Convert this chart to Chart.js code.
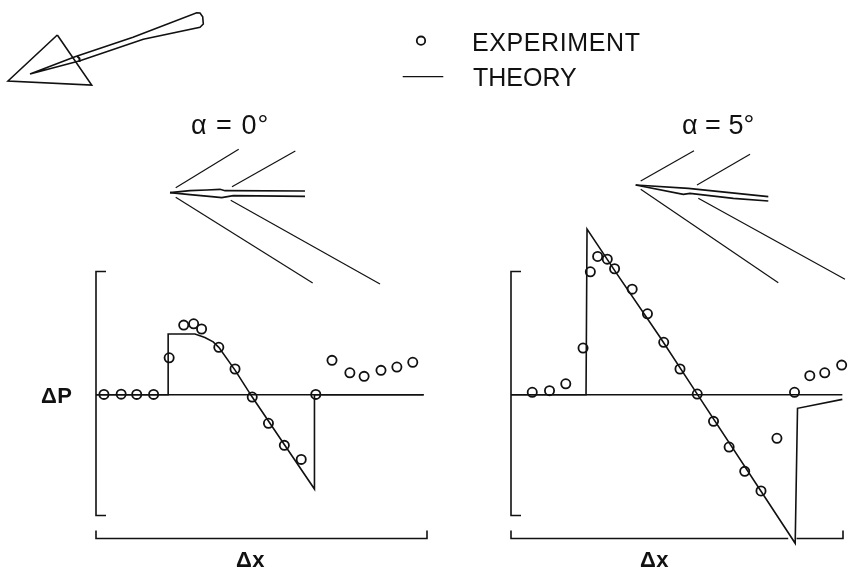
<!DOCTYPE html>
<html>
<head>
<meta charset="utf-8">
<style>
  html, body { margin: 0; padding: 0; background: #fff; }
  body { position: relative; width: 848px; height: 568px; overflow: hidden; }
  canvas { position: absolute; }
  .label { position: absolute; white-space: nowrap; color: #111; font-family: "Liberation Sans", sans-serif; line-height: 1; }
  .mark { font-size: 22px; font-weight: bold; letter-spacing: 0.5px; }
</style>
<script src="https://cdn.jsdelivr.net/npm/chart.js@4"></script>
</head>
<body>
<canvas id="sketch"></canvas>
<canvas id="left"></canvas>
<canvas id="right"></canvas>
<div class="label" style="left:472px;top:30px;font-size:25px;letter-spacing:0.6px">EXPERIMENT</div>
<div class="label" style="left:473px;top:65px;font-size:25px">THEORY</div>
<div class="label" style="left:191px;top:112px;font-size:27px;letter-spacing:1px">α = 0°</div>
<div class="label" style="left:682px;top:112px;font-size:27px">α = 5°</div>
<div class="label mark" style="left:41px;top:385px">ΔP</div>
<div class="label mark" style="left:236px;top:549px">Δx</div>
<div class="label mark" style="left:640px;top:549px">Δx</div>
<script>
// values, Δx in % of the bracket, Δp in % of the half bracket
const leftExpX = [2.4, 7.6, 12.3, 17.4, 22.1, 26.5, 29.5, 31.9, 37.1, 42, 47.2, 52.1, 56.9, 62, 66.4, 71.3, 76.7, 81, 86.1, 90.9, 95.7];
const leftExpY = [0.3, 0.5, 0.3, 0.3, 30.3, 57.1, 58.2, 53.9, 38.9, 21.1, -1.9, -23.4, -41.5, -53, 0.3, 28.2, 18, 15.1, 20, 22.7, 26.6];
const leftTheoryX = [0, 21.8, 21.8, 29.9, 32.9, 35.4, 37.1, 42, 47.2, 57.6, 66, 66, 99];
const leftTheoryY = [0, 0, 49.8, 49.8, 47, 43.4, 38.9, 20.2, -1.9, -43.7, -77.3, 0, 0];

const rightExpX = [6.4, 11.6, 16.5, 21.7, 23.9, 26.1, 29, 31.2, 36.5, 41.1, 46, 50.9, 56.1, 61, 65.7, 70.4, 75.3, 80.1, 85.4, 90, 94.5, 99.6];
const rightExpY = [2, 3.3, 9, 38.3, 100.8, 113.4, 111.2, 103.3, 86.6, 66.4, 43, 21.1, 0.6, -21.8, -42.9, -62.8, -78.9, -35.7, 2, 15.6, 18, 24.3];
const rightTheoryX = [0, 22.6, 22.9, 31.8, 44.8, 56.1, 85.6, 86.3, 99.8];
const rightTheoryY = [0, 0, 135.8, 99.5, 47.5, 0.5, -121.8, -11.1, -3.8];

// the bracket on the Δp axis does not reach the highest and lowest theory values
const bracketTop = 101;
const bracketBottom = -99;

// schematic outlines, as [x, y] in page units
const wingOutline = [[57.3, 35], [8, 81], [91.7, 85], [57.3, 35]];
const arrowOutline = [[30, 74], [75, 56.7], [133, 37.3], [196.7, 12.7], [200, 13], [202.7, 16.7], [203.3, 24], [200, 27.3], [143.3, 39.3], [80, 60.7], [30, 74]];
const arrowCollar = [[77, 56], [79.5, 58.5], [79.5, 62]];
const zeroWaves = [
  [[175.7, 187.7], [238.7, 149.3]],
  [[232, 186.7], [295.3, 151]],
  [[175.7, 197.3], [312.7, 283]],
  [[230.7, 200.3], [380, 284]]
];
const zeroBody = [
  [[170, 192.7], [190, 190.7], [206.7, 190], [220, 189.3], [225, 190.7], [305, 191]],
  [[170, 192.7], [190, 194.7], [211.7, 196.7], [221.7, 197.7], [233.3, 195.7], [305, 196.3]]
];
const fiveWaves = [
  [[640.7, 181], [694, 150.7]],
  [[697, 185], [750, 154.3]],
  [[640.7, 189.3], [778.3, 282.7]],
  [[698.3, 198.3], [845, 279.3]]
];
const fiveBody = [
  [[635.7, 185], [688.3, 188.3], [768.3, 196.7]],
  [[635.7, 185], [683.3, 194.3], [690, 193.3], [733.3, 198.3], [768.3, 201]]
];
const legendLine = [[402.7, 76.7], [443.3, 76.7]];
const legendPoint = [[421, 40.7]];

const INK = '#111';

const toPoints = (xs, ys) => xs.map((x, i) => ({ x, y: ys[i] }));
const pairs = list => list.map(p => ({ x: p[0], y: p[1] }));

const lineSet = (data, width = 1.6) => ({
  type: 'line',
  data,
  borderColor: INK,
  borderWidth: width,
  pointRadius: 0,
  fill: false,
  tension: 0,
  clip: false
});

const circleSet = (data, radius = 4.6) => ({
  type: 'scatter',
  data,
  showLine: false,
  pointRadius: radius,
  pointBackgroundColor: '#fff',
  pointBorderColor: INK,
  pointBorderWidth: 1.8,
  clip: false
});

// bracket shaped axes instead of the usual scale borders
const bracketAxes = {
  id: 'bracketAxes',
  beforeDatasetsDraw(chart, args, opts) {
    const { ctx, chartArea, scales } = chart;
    const top = scales.y.getPixelForValue(bracketTop);
    const bottom = scales.y.getPixelForValue(bracketBottom);
    const xb = bottom + opts.drop;
    ctx.save();
    ctx.strokeStyle = INK;
    ctx.lineWidth = 1.6;
    ctx.beginPath();
    ctx.moveTo(chartArea.left + 10, top);
    ctx.lineTo(chartArea.left, top);
    ctx.lineTo(chartArea.left, bottom);
    ctx.lineTo(chartArea.left + 10, bottom);
    ctx.moveTo(chartArea.left, xb - 8);
    ctx.lineTo(chartArea.left, xb);
    if (opts.gap) {
      ctx.lineTo(scales.x.getPixelForValue(opts.gap[0]), xb);
      ctx.moveTo(scales.x.getPixelForValue(opts.gap[1]), xb);
    }
    ctx.lineTo(chartArea.right, xb);
    ctx.lineTo(chartArea.right, xb - 8);
    ctx.stroke();
    ctx.restore();
  }
};

const makePanel = (id, box, expX, expY, theoryX, theoryY, lineEnd, gap) => {
  const canvas = document.getElementById(id);
  canvas.style.left = box.left + 'px';
  canvas.style.top = box.top + 'px';
  canvas.width = box.width;
  canvas.height = box.height;
  return new Chart(canvas, {
    data: {
      datasets: [
        lineSet([{ x: 0, y: 0 }, { x: lineEnd, y: 0 }]),
        lineSet(toPoints(theoryX, theoryY)),
        circleSet(toPoints(expX, expY))
      ]
    },
    options: {
      responsive: false,
      animation: false,
      layout: { autoPadding: false, padding: { left: 10, right: 10, top: 10, bottom: 10.8 } },
      plugins: {
        legend: { display: false },
        tooltip: { enabled: false },
        bracketAxes: { drop: 23, gap }
      },
      scales: {
        x: { type: 'linear', display: false, min: 0, max: 100 },
        y: { type: 'linear', display: false, min: -125, max: 140 }
      }
    },
    plugins: [bracketAxes]
  });
};

makePanel('left', { left: 86, top: 214, width: 351, height: 344 }, leftExpX, leftExpY, leftTheoryX, leftTheoryY, 99);
makePanel('right', { left: 501, top: 214, width: 352, height: 344 }, rightExpX, rightExpY, rightTheoryX, rightTheoryY, 99.8, [83.5, 86]);

// arrow, wave and body schematics plus the legend keys
const sketch = document.getElementById('sketch');
sketch.width = 848;
sketch.height = 568;
new Chart(sketch, {
  data: {
    datasets: [
      lineSet(pairs(wingOutline)),
      lineSet(pairs(arrowOutline)),
      lineSet(pairs(arrowCollar), 2),
      ...zeroWaves.map(l => lineSet(pairs(l), 1.2)),
      ...zeroBody.map(l => lineSet(pairs(l), 1.7)),
      ...fiveWaves.map(l => lineSet(pairs(l), 1.2)),
      ...fiveBody.map(l => lineSet(pairs(l), 1.7)),
      lineSet(pairs(legendLine), 1.2),
      circleSet(pairs(legendPoint), 4.2)
    ]
  },
  options: {
    responsive: false,
    animation: false,
    layout: { autoPadding: false, padding: 0 },
    plugins: { legend: { display: false }, tooltip: { enabled: false } },
    scales: {
      x: { type: 'linear', display: false, min: 0, max: 848 },
      y: { type: 'linear', display: false, min: 0, max: 568, reverse: true }
    }
  }
});
</script>
</body>
</html>
